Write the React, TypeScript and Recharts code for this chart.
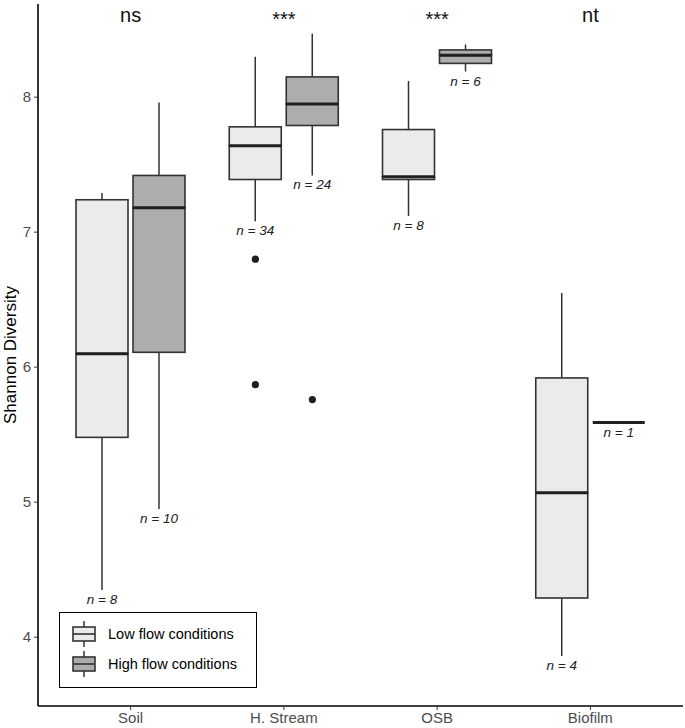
import React from "react";
import { ComposedChart, Bar, Scatter, XAxis, YAxis } from "recharts";

// categories and box statistics
const categories = ["Soil", "H. Stream", "OSB", "Biofilm"];
const signif = ["ns", "***", "***", "nt"];

// low flow conditions
const lowMin = [4.35, 7.08, 7.12, 3.86];
const lowQ1 = [5.48, 7.39, 7.39, 4.29];
const lowMed = [6.1, 7.64, 7.41, 5.07];
const lowQ3 = [7.24, 7.78, 7.76, 5.92];
const lowMax = [7.29, 8.3, 8.12, 6.55];
const lowN = [8, 34, 8, 4];
const lowOutliers = [[], [6.8, 5.87], [], []];

// high flow conditions
const highMin = [4.95, 7.42, 8.19, 5.59];
const highQ1 = [6.11, 7.79, 8.25, 5.59];
const highMed = [7.18, 7.95, 8.31, 5.59];
const highQ3 = [7.42, 8.15, 8.35, 5.59];
const highMax = [7.96, 8.47, 8.39, 5.59];
const highN = [10, 24, 6, 1];
const highOutliers = [[], [5.76], [], []];

const yTicks = [4, 5, 6, 7, 8];
const Y_MIN = 3.49;
const Y_MAX = 8.69;

const FONT = "Liberation Sans, Arial, sans-serif";
const LOW_FILL = "#EBEBEB";
const HIGH_FILL = "#ADADAD";
const EDGE = "#333333";
const BAR_SIZE = 52;
const BAR_GAP = 5;
const DODGE = (BAR_SIZE + BAR_GAP) / 2;

const rows = categories.map((cat, i) => ({
  cat,
  sig: signif[i],
  top: Y_MAX,
  lowBase: lowMin[i],
  lowW1: lowQ1[i] - lowMin[i],
  lowB1: lowMed[i] - lowQ1[i],
  lowB2: lowQ3[i] - lowMed[i],
  lowW2: lowMax[i] - lowQ3[i],
  highBase: highMin[i],
  highW1: highQ1[i] - highMin[i],
  highB1: highMed[i] - highQ1[i],
  highB2: highQ3[i] - highMed[i],
  highW2: highMax[i] - highQ3[i],
  lowN: lowN[i],
  highN: highN[i],
  lowOut1: lowOutliers[i][0] ?? null,
  lowOut2: lowOutliers[i][1] ?? null,
  highOut1: highOutliers[i][0] ?? null,
}));

// invisible base of the stack, its top is the lower whisker end -> sample size goes there
const nLabel = (key: string) => (p: any) => (
  <text
    x={p.x + p.width / 2}
    y={p.y + 14}
    textAnchor="middle"
    fontStyle="italic"
    fontSize={13.5}
    fontFamily={FONT}
    fill="#222"
  >
    {`n = ${p.payload[key]}`}
  </text>
);

const whisker = (p: any) => (
  <line
    x1={p.x + p.width / 2}
    x2={p.x + p.width / 2}
    y1={p.y}
    y2={p.y + p.height}
    stroke={EDGE}
    strokeWidth={1.5}
  />
);

const boxLower = (fill: string) => (p: any) => (
  <rect x={p.x} y={p.y} width={p.width} height={p.height} fill={fill} stroke={EDGE} strokeWidth={1.6} />
);

// upper half of the box; its bottom edge is the median
const boxUpper = (fill: string) => (p: any) => (
  <g>
    <rect x={p.x} y={p.y} width={p.width} height={p.height} fill={fill} stroke={EDGE} strokeWidth={1.6} />
    <line x1={p.x} x2={p.x + p.width} y1={p.y + p.height} y2={p.y + p.height} stroke="#1f1f1f" strokeWidth={3} />
  </g>
);

const outlier = (key: string, dx: number) => (p: any) =>
  p.payload == null || p.payload[key] == null ? <g /> : <circle cx={p.cx + dx} cy={p.cy} r={3.6} fill="#1f1f1f" />;

const sigLabel = (p: any) => (
  <text x={p.cx} y={p.cy + (p.payload.sig === "***" ? 22 : 18)} textAnchor="middle" fontSize={20} fontFamily={FONT} fill="#111">
    {p.payload.sig}
  </text>
);

const LegendKey = ({ fill }: { fill: string }) => (
  <svg width={24} height={26} style={{ display: "block" }}>
    <line x1={12} x2={12} y1={0} y2={26} stroke={EDGE} strokeWidth={1.5} />
    <rect x={1} y={6} width={22} height={14} fill={fill} stroke={EDGE} strokeWidth={1.6} />
    <line x1={1} x2={23} y1={13} y2={13} stroke={EDGE} strokeWidth={1.6} />
  </svg>
);

const App = () => {
  return (
    <div style={{ position: "absolute", left: 0, top: 0, width: 685, height: 728, background: "#fff", fontFamily: FONT }}>
      <ComposedChart
        width={685}
        height={728}
        data={rows}
        margin={{ top: 4, right: 2, bottom: 0, left: 0 }}
        barSize={BAR_SIZE}
        barGap={BAR_GAP}
      >
        <XAxis
          dataKey="cat"
          padding={{ left: 16, right: 16 }}
          height={22}
          tickSize={4}
          tickMargin={2}
          stroke="#000"
          axisLine={{ stroke: "#000", strokeWidth: 1.6 }}
          tickLine={{ stroke: EDGE }}
          tick={{ fill: "#4D4D4D", fontSize: 15, fontFamily: FONT }}
        />
        <YAxis
          type="number"
          domain={[Y_MIN, Y_MAX]}
          allowDataOverflow
          ticks={yTicks}
          width={38}
          tickSize={4}
          tickMargin={3}
          axisLine={{ stroke: "#000", strokeWidth: 1.6 }}
          tickLine={{ stroke: EDGE }}
          tick={{ fill: "#4D4D4D", fontSize: 15, fontFamily: FONT }}
          label={{
            value: "Shannon Diversity",
            angle: -90,
            position: "insideLeft",
            offset: 10,
            style: { textAnchor: "middle", fontSize: 17, fill: "#000", fontFamily: FONT },
          }}
        />

        <Bar dataKey="lowBase" stackId="low" fill="none" shape={nLabel("lowN")} isAnimationActive={false} />
        <Bar dataKey="lowW1" stackId="low" shape={whisker} isAnimationActive={false} />
        <Bar dataKey="lowB1" stackId="low" shape={boxLower(LOW_FILL)} isAnimationActive={false} />
        <Bar dataKey="lowB2" stackId="low" shape={boxUpper(LOW_FILL)} isAnimationActive={false} />
        <Bar dataKey="lowW2" stackId="low" shape={whisker} isAnimationActive={false} />

        <Bar dataKey="highBase" stackId="high" fill="none" shape={nLabel("highN")} isAnimationActive={false} />
        <Bar dataKey="highW1" stackId="high" shape={whisker} isAnimationActive={false} />
        <Bar dataKey="highB1" stackId="high" shape={boxLower(HIGH_FILL)} isAnimationActive={false} />
        <Bar dataKey="highB2" stackId="high" shape={boxUpper(HIGH_FILL)} isAnimationActive={false} />
        <Bar dataKey="highW2" stackId="high" shape={whisker} isAnimationActive={false} />

        <Scatter dataKey="lowOut1" shape={outlier("lowOut1", -DODGE)} isAnimationActive={false} />
        <Scatter dataKey="lowOut2" shape={outlier("lowOut2", -DODGE)} isAnimationActive={false} />
        <Scatter dataKey="highOut1" shape={outlier("highOut1", DODGE)} isAnimationActive={false} />
        <Scatter dataKey="top" shape={sigLabel} isAnimationActive={false} />
      </ComposedChart>

      {/* legend box, bottom left inside the panel */}
      <div
        style={{
          position: "absolute",
          left: 59,
          top: 612,
          width: 196,
          height: 74,
          border: "1px solid #000",
          background: "#fff",
          fontSize: 14.5,
          color: "#000",
        }}
      >
        {[
          { label: "Low flow conditions", fill: LOW_FILL },
          { label: "High flow conditions", fill: HIGH_FILL },
        ].map((d, i) => (
          <div key={d.label} style={{ position: "absolute", left: 12, top: 8 + i * 30, display: "flex", alignItems: "center" }}>
            <LegendKey fill={d.fill} />
            <span style={{ marginLeft: 12 }}>{d.label}</span>
          </div>
        ))}
      </div>
    </div>
  );
};

export default App;
